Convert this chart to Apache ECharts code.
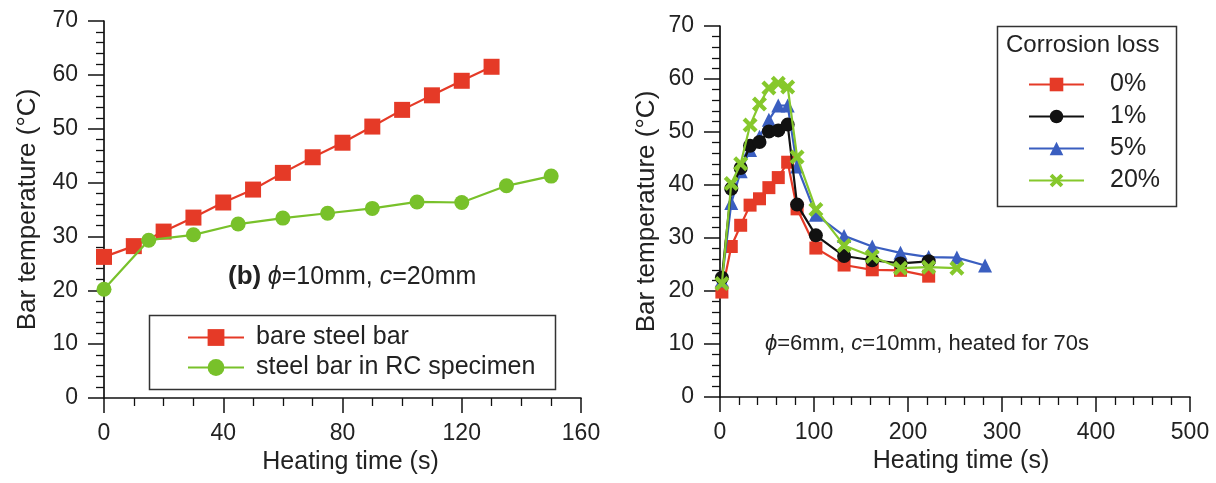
<!DOCTYPE html>
<html>
<head>
<meta charset="utf-8">
<script src="https://cdn.jsdelivr.net/npm/echarts@6/dist/echarts.min.js"></script>
<style>
html,body{margin:0;padding:0;background:#fff;}
#chart{width:1216px;height:483px;}
</style>
</head>
<body>
<div id="chart"></div>
<script>
// ---- Left panel data ----
const leftBareTime = [0, 10, 20, 30, 40, 50, 60, 70, 80, 90, 100, 110, 120, 130];
const leftBareTemp = [26.2, 28.2, 30.9, 33.5, 36.3, 38.7, 41.8, 44.7, 47.4, 50.4, 53.5, 56.2, 58.9, 61.5];
const leftRCTime = [0, 15, 30, 45, 60, 75, 90, 105, 120, 135, 150];
const leftRCTemp = [20.2, 29.3, 30.3, 32.3, 33.4, 34.3, 35.2, 36.4, 36.3, 39.4, 41.2];
const leftNames = ['bare steel bar', 'steel bar in RC specimen'];

// ---- Right panel data ----
const rightTime = [2, 12, 22, 32, 42, 52, 62, 72, 82, 102, 132, 162, 192, 222, 252, 282];
const loss0 = [19.8, 28.4, 32.4, 36.2, 37.4, 39.5, 41.4, 44.3, 35.5, 28.1, 24.9, 24.0, 23.9, 22.8];
const loss1 = [22.5, 39.3, 43.2, 47.4, 48.1, 50.1, 50.3, 51.4, 36.3, 30.5, 26.6, 25.8, 25.2, 25.6];
const loss5 = [22.0, 36.6, 42.6, 46.6, 49.1, 52.3, 55.0, 55.0, 43.5, 34.4, 30.4, 28.4, 27.2, 26.4, 26.3, 24.8];
const loss20 = [21.4, 40.3, 44.0, 51.3, 55.3, 58.3, 59.2, 58.5, 45.3, 35.4, 28.6, 26.5, 24.3, 24.5, 24.3];
const rightNames = ['0%', '1%', '5%', '20%'];

// ---- Axis ticks ----
const leftXTicks = {min: 0, max: 160, interval: 40};
const rightXTicks = {min: 0, max: 500, interval: 100};
const yTicks = {min: 0, max: 70, interval: 10};

const FONT = "'Liberation Sans', Arial, Helvetica, sans-serif";
const pairs = (xs, ys) => ys.map((v, i) => [xs[i], v]);
const X_PATH = 'path://M0,2 L2,0 L5,3 L8,0 L10,2 L7,5 L10,8 L8,10 L5,7 L2,10 L0,8 L3,5 Z';

function xAxisCfg(grid, ticks, minorSplit, padLeft) {
  return {
    gridIndex: grid, type: 'value', min: ticks.min, max: ticks.max, interval: ticks.interval,
    axisLine: {lineStyle: {color: '#111', width: 1.7}},
    axisTick: {length: 15, lineStyle: {color: '#111', width: 1.5}},
    minorTick: {show: true, splitNumber: minorSplit, length: 8, lineStyle: {color: '#111', width: 1.3}},
    splitLine: {show: false},
    axisLabel: {fontSize: 23, color: '#222', margin: 24, fontFamily: FONT},
    name: 'Heating time (s)', nameLocation: 'middle', nameGap: 51,
    nameTextStyle: {fontSize: 25, color: '#222', fontFamily: FONT, padding: [0, 0, 0, padLeft]}
  };
}
function yAxisCfg(grid, gap) {
  return {
    gridIndex: grid, type: 'value', min: yTicks.min, max: yTicks.max, interval: yTicks.interval,
    axisLine: {lineStyle: {color: '#111', width: 1.7}},
    axisTick: {length: 16, lineStyle: {color: '#111', width: 1.5}},
    minorTick: {show: true, splitNumber: 5, length: 8, lineStyle: {color: '#111', width: 1.3}},
    splitLine: {show: false},
    axisLabel: {fontSize: 23, color: '#222', margin: 26, fontFamily: FONT},
    name: 'Bar temperature (°C)', nameLocation: 'middle', nameGap: gap, nameRotate: 90,
    nameTextStyle: {fontSize: 26, color: '#222', fontFamily: FONT}
  };
}

const RED = '#e53a27', GREEN = '#78c12a', BLACK = '#111111', BLUE = '#3a5ec0', GREEN2 = '#86c82c';

const option = {
  animation: false,
  backgroundColor: '#fff',
  grid: [
    {left: 104, top: 21, width: 477, height: 377},
    {left: 720, top: 26, width: 470, height: 371}
  ],
  xAxis: [xAxisCfg(0, leftXTicks, 4, 16), xAxisCfg(1, rightXTicks, 5, 12)],
  yAxis: [yAxisCfg(0, 63), yAxisCfg(1, 60)],
  legend: [
    {
      data: leftNames, orient: 'vertical', left: 182, top: 320,
      itemWidth: 56, itemHeight: 21, itemGap: 5,
      textStyle: {fontSize: 25, color: '#222', fontFamily: FONT, padding: [0, 0, 0, 7]}
    },
    {
      data: rightNames, orient: 'vertical', left: 1023, top: 67,
      itemWidth: 55, itemHeight: 17, itemGap: 7,
      textStyle: {fontSize: 25, color: '#222', fontFamily: FONT, padding: [0, 0, 0, 21]}
    }
  ],
  graphic: [
    {type: 'rect', left: 147, top: 313, shape: {width: 406, height: 74},
      style: {fill: 'none', stroke: '#333', lineWidth: 1.5}, z: -1},
    {type: 'rect', left: 995, top: 24, shape: {width: 179, height: 180},
      style: {fill: 'none', stroke: '#333', lineWidth: 1.5}, z: -1},
    {type: 'text', left: 1006, top: 33,
      style: {text: 'Corrosion loss', font: '24px ' + FONT, fill: '#222'}},
    {type: 'text', left: 228, top: 264,
      style: {
        text: '{b|(b)}  {i|ϕ}{n|=10mm, }{i|c}{n|=20mm}',
        rich: {
          b: {font: 'bold 26px ' + FONT, fill: '#222'},
          i: {font: 'italic 25px ' + FONT, fill: '#222'},
          n: {font: '25px ' + FONT, fill: '#222'}
        }
      }},
    {type: 'text', left: 765, top: 333,
      style: {
        text: '{i|ϕ}{n|=6mm, }{i|c}{n|=10mm, heated for 70s}',
        rich: {
          i: {font: 'italic 22px ' + FONT, fill: '#222'},
          n: {font: '22px ' + FONT, fill: '#222'}
        }
      }}
  ],
  series: [
    {name: leftNames[0], type: 'line', xAxisIndex: 0, yAxisIndex: 0, data: pairs(leftBareTime, leftBareTemp),
      symbol: 'rect', symbolSize: 16, lineStyle: {color: RED, width: 2.2}, itemStyle: {color: RED}, z: 3},
    {name: leftNames[1], type: 'line', xAxisIndex: 0, yAxisIndex: 0, data: pairs(leftRCTime, leftRCTemp),
      symbol: 'circle', symbolSize: 15, lineStyle: {color: GREEN, width: 2.2}, itemStyle: {color: GREEN}, z: 4},
    {name: rightNames[0], type: 'line', xAxisIndex: 1, yAxisIndex: 1, data: pairs(rightTime, loss0),
      symbol: 'rect', symbolSize: 13, lineStyle: {color: RED, width: 2.2}, itemStyle: {color: RED}, z: 3},
    {name: rightNames[1], type: 'line', xAxisIndex: 1, yAxisIndex: 1, data: pairs(rightTime, loss1),
      symbol: 'circle', symbolSize: 14, lineStyle: {color: BLACK, width: 2.2}, itemStyle: {color: BLACK}, z: 5},
    {name: rightNames[2], type: 'line', xAxisIndex: 1, yAxisIndex: 1, data: pairs(rightTime, loss5),
      symbol: 'triangle', symbolSize: 14, lineStyle: {color: BLUE, width: 2.2}, itemStyle: {color: BLUE}, z: 4},
    {name: rightNames[3], type: 'line', xAxisIndex: 1, yAxisIndex: 1, data: pairs(rightTime, loss20),
      symbol: X_PATH, symbolSize: 15, lineStyle: {color: GREEN2, width: 2.2}, itemStyle: {color: GREEN2}, z: 6}
  ]
};

const chart = echarts.init(document.getElementById('chart'), null, {renderer: 'canvas'});
chart.setOption(option);
</script>
</body>
</html>
